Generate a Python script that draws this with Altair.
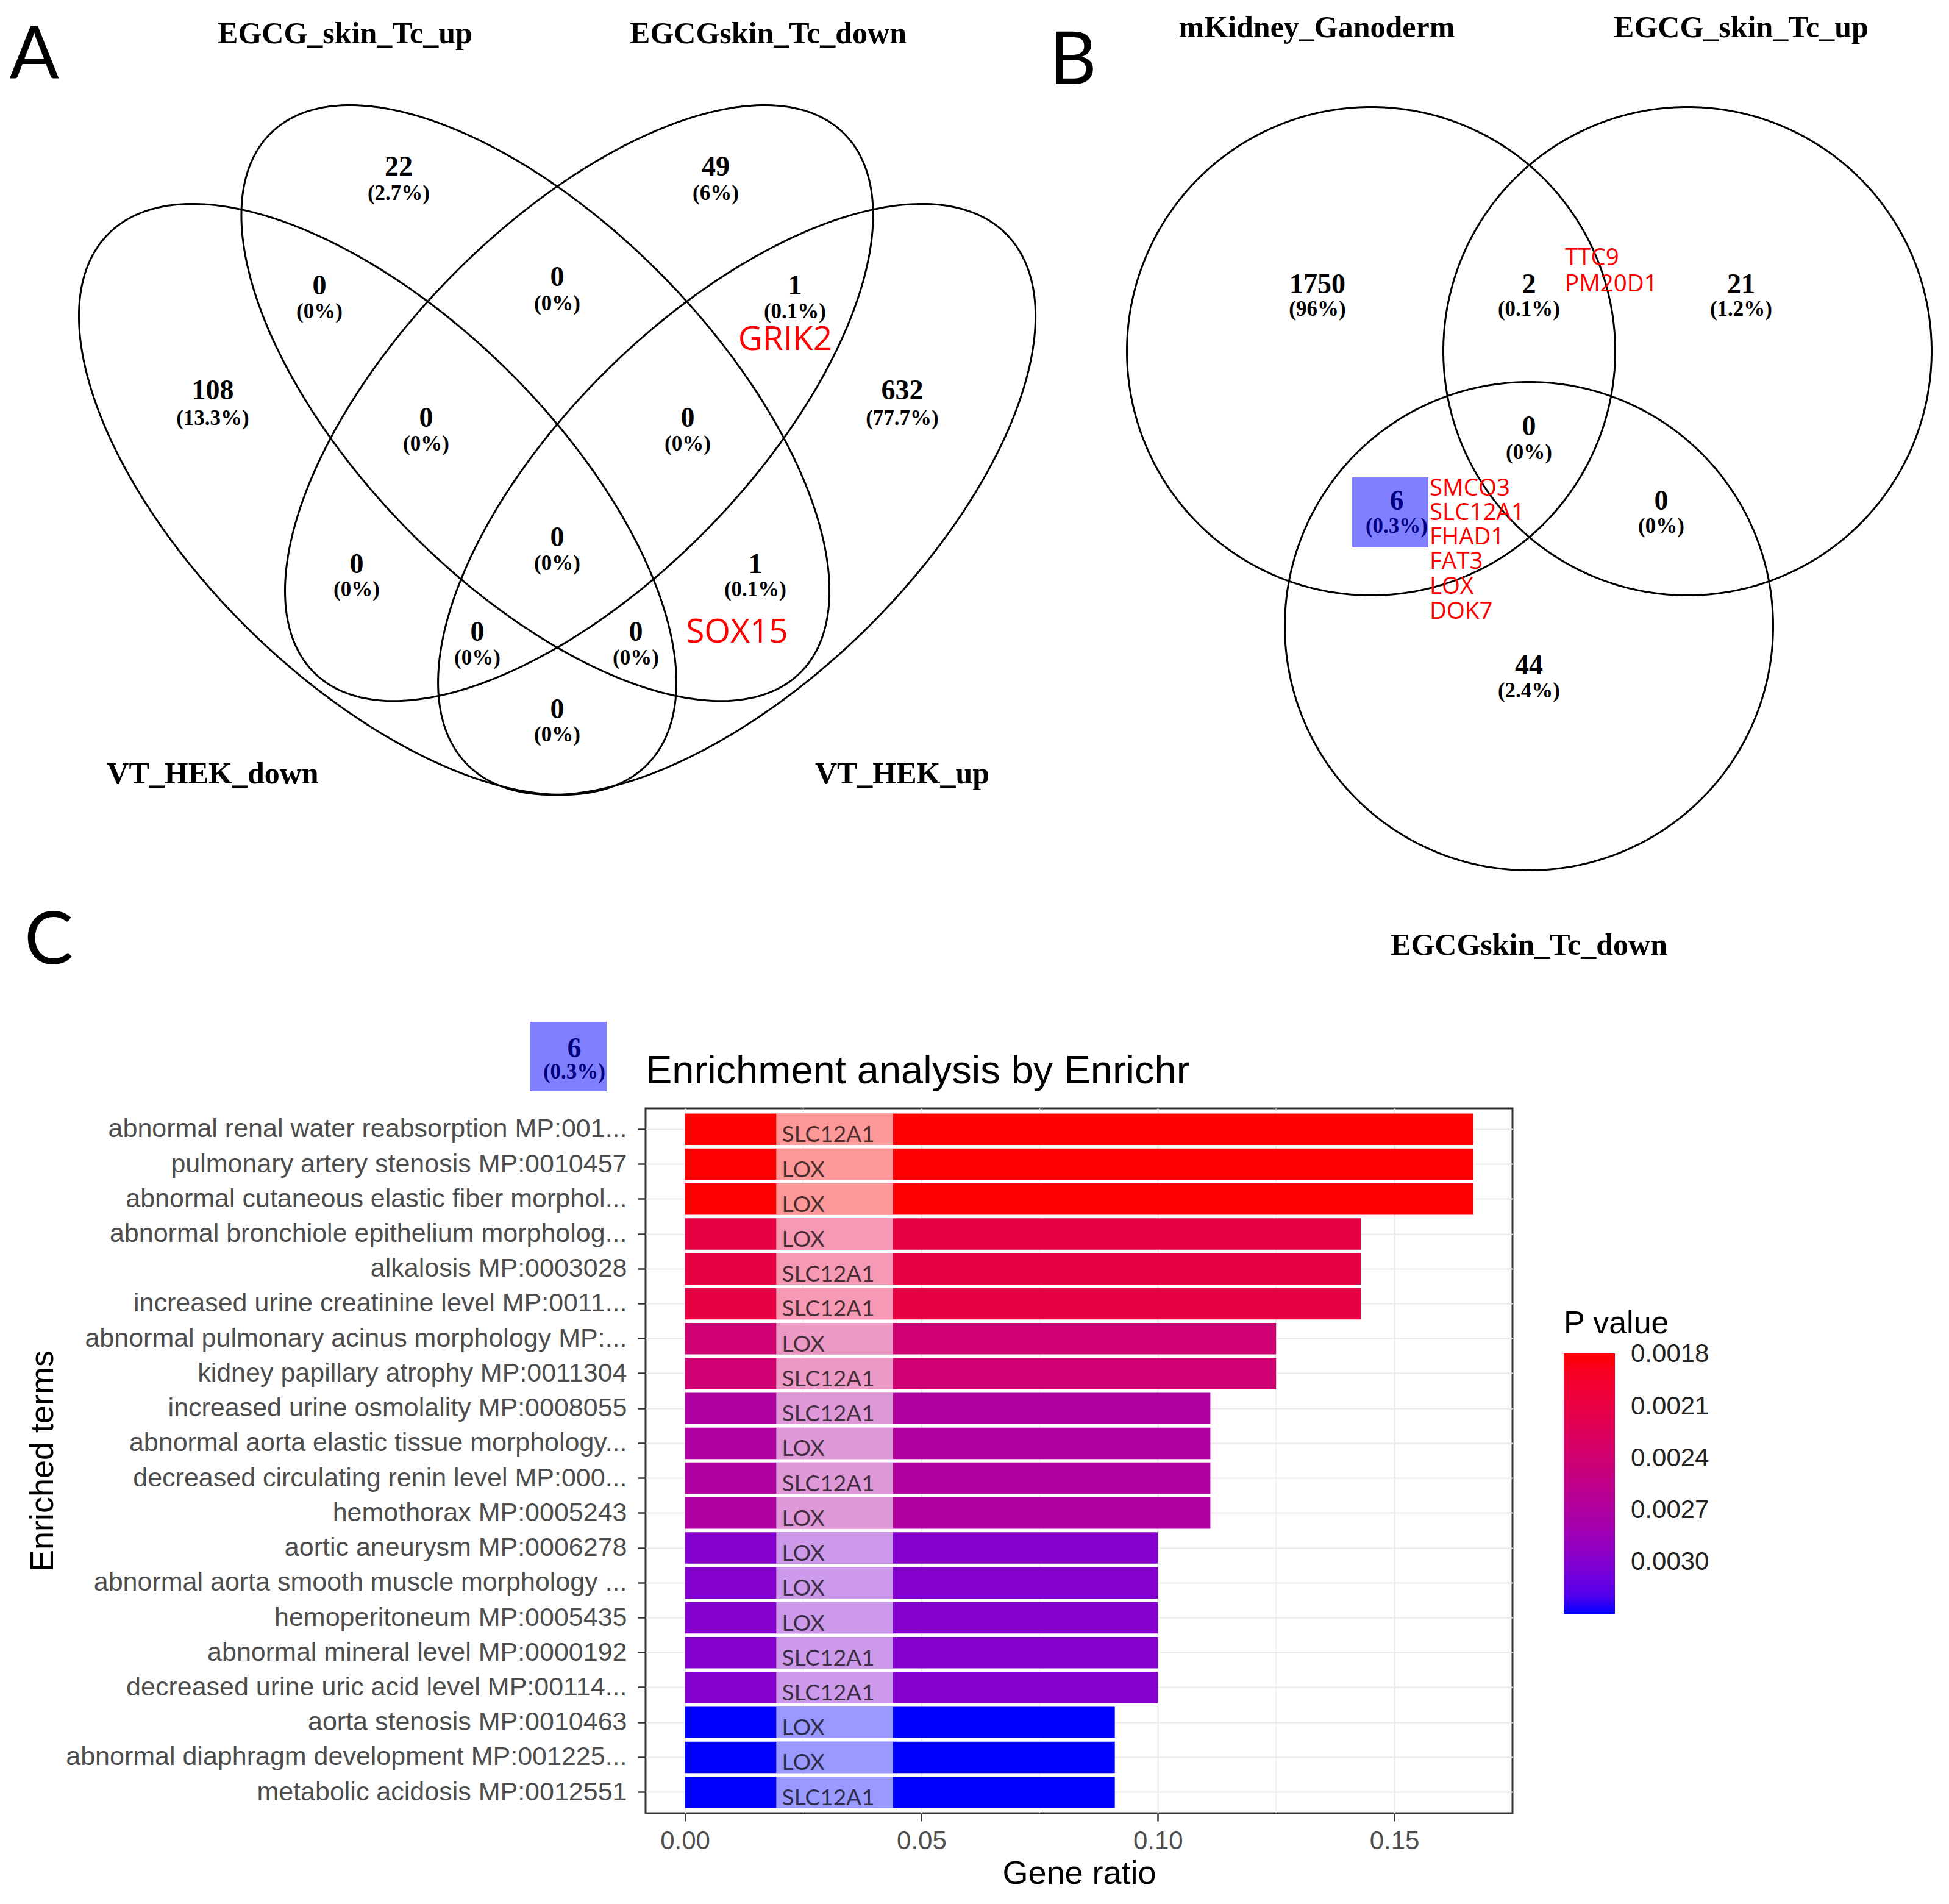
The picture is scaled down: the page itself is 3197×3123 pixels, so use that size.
import altair as alt
import numpy as np
import pandas as pd

# ------------------------------------------------------------------ data
# Panel C : Enrichr result
terms = [
    "abnormal renal water reabsorption MP:001...",
    "pulmonary artery stenosis MP:0010457",
    "abnormal cutaneous elastic fiber morphol...",
    "abnormal bronchiole epithelium morpholog...",
    "alkalosis MP:0003028",
    "increased urine creatinine level MP:0011...",
    "abnormal pulmonary acinus morphology MP:...",
    "kidney papillary atrophy MP:0011304",
    "increased urine osmolality MP:0008055",
    "abnormal aorta elastic tissue morphology...",
    "decreased circulating renin level MP:000...",
    "hemothorax MP:0005243",
    "aortic aneurysm MP:0006278",
    "abnormal aorta smooth muscle morphology ...",
    "hemoperitoneum MP:0005435",
    "abnormal mineral level MP:0000192",
    "decreased urine uric acid level MP:00114...",
    "aorta stenosis MP:0010463",
    "abnormal diaphragm development MP:001225...",
    "metabolic acidosis MP:0012551",
]
genes = ["SLC12A1", "LOX", "LOX", "LOX", "SLC12A1", "SLC12A1", "LOX", "SLC12A1",
         "SLC12A1", "LOX", "SLC12A1", "LOX", "LOX", "LOX", "LOX", "SLC12A1",
         "SLC12A1", "LOX", "LOX", "SLC12A1"]
gene_ratio = [0.1667, 0.1667, 0.1667, 0.1429, 0.1429, 0.1429, 0.125, 0.125,
              0.1111, 0.1111, 0.1111, 0.1111, 0.1, 0.1, 0.1, 0.1, 0.1,
              0.0909, 0.0909, 0.0909]
p_value = [0.0018, 0.0018, 0.0018, 0.0021, 0.0021, 0.0021, 0.0024, 0.0024,
           0.0027, 0.0027, 0.0027, 0.0027, 0.0030, 0.0030, 0.0030, 0.0030, 0.0030,
           0.0033, 0.0033, 0.0033]
p_ticks = [0.0018, 0.0021, 0.0024, 0.0027, 0.0030]
x_ticks = [0.0, 0.05, 0.10, 0.15]
x_minor = [0.025, 0.075, 0.125]

# Panel A : four-set Venn
A_sets = ["EGCG_skin_Tc_up", "EGCGskin_Tc_down", "VT_HEK_down", "VT_HEK_up"]
A_counts = ["22", "49", "0", "0", "1", "108", "0", "0", "632", "0", "0", "1", "0", "0", "0"]
A_pcts = ["(2.7%)", "(6%)", "(0%)", "(0%)", "(0.1%)", "(13.3%)", "(0%)", "(0%)", "(77.7%)",
          "(0%)", "(0%)", "(0.1%)", "(0%)", "(0%)", "(0%)"]
A_genes = ["GRIK2", "SOX15"]

# Panel B : three-set Venn
B_sets = ["mKidney_Ganoderm", "EGCG_skin_Tc_up", "EGCGskin_Tc_down"]
B_counts = ["1750", "2", "21", "0", "6", "0", "44"]
B_pcts = ["(96%)", "(0.1%)", "(1.2%)", "(0%)", "(0.3%)", "(0%)", "(2.4%)"]
B_genes_12 = ["TTC9", "PM20D1"]
B_genes_13 = ["SMCO3", "SLC12A1", "FHAD1", "FAT3", "LOX", "DOK7"]
C_box_count = ["6"]
C_box_pct = ["(0.3%)"]
panel_letters = ["A", "B", "C"]
C_title = "Enrichment analysis by Enrichr"

# ------------------------------------------------------------------ layout (page pixels)
PAGE_W, PAGE_H = 3197, 3123
PLOT_X0, PLOT_Y0 = 1059, 1818
PLOT_W, PLOT_H = 1422, 1156
REF = 3197 / 1568.0          # outline points below were read on a 1568-px-wide view

A_count_pos = [(654, 274), (1174, 274), (524, 469), (914, 455), (1304, 469), (349, 641),
               (699, 686), (1128, 686), (1480, 641), (914, 882), (585, 926), (1239, 926),
               (783, 1037), (1043, 1037), (914, 1164)]
A_pct_pos = [(654, 317), (1174, 317), (524, 511), (914, 498), (1304, 511), (349, 686),
             (699, 728), (1128, 728), (1480, 686), (914, 924), (585, 967), (1239, 967),
             (783, 1079), (1043, 1079), (914, 1205)]
A_set_pos = [(566, 56), (1260, 56), (349, 1270), (1480, 1270)]
A_gene_pos = [(1288, 557), (1209, 1037)]

# points traced on the outlines of the left outer (VT_HEK_down) and left inner
# (EGCG_skin_Tc_up) ellipses; the right ones are their mirror images
A_outer_trace = [(66.3, 267.6), (72, 223.7), (93.9, 186.2), (125.2, 167.4), (156.5, 162.7),
                 (195.6, 165.9), (344.2, 242.5), (449, 344), (524, 464), (542, 561.5),
                 (538, 597), (490, 634.5), (447, 640), (399, 633), (294, 574), (203.4, 511.6),
                 (147.1, 449), (103.3, 386.5), (75.1, 323.7)]
A_inner_trace = [(291, 87.6), (212.8, 114.2), (200.3, 142.4), (194, 176.8), (196.4, 214.3),
                 (215.8, 267.5), (264.4, 348.9), (372.3, 464.7), (449, 521), (542.5, 561.5),
                 (577.3, 565.8), (635.7, 544.5), (552.8, 243.5), (449, 151.8), (406.8, 120.5),
                 (344.2, 95.5)]
A_mirror_x = 448.3

B_set_pos = [(2160, 46), (2856, 46), (2508, 1551)]
B_count_pos = [(2161, 467), (2508, 467), (2856, 467), (2508, 700), (2291, 822), (2725, 822), (2508, 1092)]
B_pct_pos = [(2161, 507), (2508, 507), (2856, 507), (2508, 742), (2291, 863), (2725, 863), (2508, 1133)]
B_genes_12_pos = [(2567, 423), (2567, 466)]
B_genes_13_pos = [(2345, 801), (2345, 841), (2345, 881), (2345, 921), (2345, 962), (2345, 1003)]
B_circles = [(2249, 576, 400.5), (2768, 576, 400.5), (2508, 1027, 400.5)]
B_highlight = [(2218, 783, 2343, 898)]
C_highlight = [(869, 1676, 995, 1790)]
C_box_count_pos = [(942, 1720)]
C_box_pct_pos = [(942, 1758)]
letter_pos = [(56, 93), (1760, 102), (80, 1545)]
C_title_pos = (1059, 1777)
LABEL_BOX = (0.0193, 0.0440)
LABEL_X = 0.0205

XS = alt.Scale(domain=[0, PAGE_W], range=[-PLOT_X0, PAGE_W - PLOT_X0], nice=False, zero=False)
YS = alt.Scale(domain=[0, PAGE_H], range=[-PLOT_Y0, PAGE_H - PLOT_Y0], nice=False, zero=False)


def pos_df(labels, pos):
    return pd.DataFrame({"label": labels, "x": [p[0] for p in pos], "y": [p[1] for p in pos]})


def text_layer(df, font, size, color="black", weight="normal", align="center", baseline="middle"):
    return alt.Chart(df).mark_text(font=font, fontSize=size, color=color, fontWeight=weight,
                                   align=align, baseline=baseline).encode(
        x=alt.X("x:Q", scale=XS, axis=None),
        y=alt.Y("y:Q", scale=YS, axis=None),
        text="label:N",
    )


def ellipse_outline(trace, n=361):
    """Least-squares ellipse through traced outline points, returned as a closed polyline."""
    P = np.array(trace, float)
    m = P.mean(axis=0)
    s = P.std()
    X = (P - m) / s
    x, y = X[:, 0], X[:, 1]
    D = np.column_stack([x * x, x * y, y * y, x, y])
    A, B, C, Dd, E = np.linalg.lstsq(D, np.ones(len(x)), rcond=None)[0]
    M = np.array([[A, B / 2], [B / 2, C]])
    g = np.array([Dd, E])
    c0 = np.linalg.solve(2 * M, -g)
    F = 1 - (c0 @ M @ c0 + g @ c0)
    lam, V = np.linalg.eigh(M)
    ax = np.sqrt(F / lam)
    t = np.linspace(0, 2 * np.pi, n)
    Q = V @ np.vstack([ax[0] * np.cos(t), ax[1] * np.sin(t)])
    return (c0[:, None] + Q).T * s + m


# outlines of the Venn sets
rows = []
outer = ellipse_outline(A_outer_trace)
inner = ellipse_outline(A_inner_trace)
shapes = {
    "A0": outer,
    "A1": inner,
    "A2": np.column_stack([2 * A_mirror_x - inner[:, 0], inner[:, 1]]),
    "A3": np.column_stack([2 * A_mirror_x - outer[:, 0], outer[:, 1]]),
}
for key, pts in shapes.items():
    for k, (xx, yy) in enumerate(pts * REF):
        rows.append({"id": key, "k": k, "x": xx, "y": yy})
t = np.linspace(0, 2 * np.pi, 361)
for i, (cx, cy, r) in enumerate(B_circles):
    for k, (xx, yy) in enumerate(zip(cx + r * np.cos(t), cy + r * np.sin(t))):
        rows.append({"id": f"B{i}", "k": k, "x": xx, "y": yy})
outline_df = pd.DataFrame(rows)

outlines = alt.Chart(outline_df).mark_line(color="black", strokeWidth=3).encode(
    x=alt.X("x:Q", scale=XS, axis=None),
    y=alt.Y("y:Q", scale=YS, axis=None),
    detail="id:N",
    order="k:Q",
)

hl = B_highlight + C_highlight
box_df = pd.DataFrame({"x": [b[0] for b in hl], "y": [b[1] for b in hl],
                       "x2": [b[2] for b in hl], "y2": [b[3] for b in hl]})
boxes = alt.Chart(box_df).mark_rect(color="#8080FF").encode(
    x=alt.X("x:Q", scale=XS, axis=None), x2="x2:Q",
    y=alt.Y("y:Q", scale=YS, axis=None), y2="y2:Q",
)

SERIF = "Liberation Serif"
SANS = "Liberation Sans"
LABEL_SANS = "Open Sans"

black_counts = [c for i, c in enumerate(B_counts) if i != 4]
black_count_pos = [p for i, p in enumerate(B_count_pos) if i != 4]
black_pcts = [c for i, c in enumerate(B_pcts) if i != 4]
black_pct_pos = [p for i, p in enumerate(B_pct_pos) if i != 4]

venn_layers = [
    outlines,
    boxes,
    text_layer(pos_df(A_counts + black_counts, A_count_pos + black_count_pos), SERIF, 46, weight="bold"),
    text_layer(pos_df(A_pcts + black_pcts, A_pct_pos + black_pct_pos), SERIF, 35, weight="bold"),
    text_layer(pos_df([B_counts[4]] + C_box_count, [B_count_pos[4]] + C_box_count_pos), SERIF, 46,
               color="#000080", weight="bold"),
    text_layer(pos_df([B_pcts[4]] + C_box_pct, [B_pct_pos[4]] + C_box_pct_pos), SERIF, 35,
               color="#000080", weight="bold"),
    text_layer(pos_df(A_sets + B_sets, A_set_pos + B_set_pos), SERIF, 50, weight="bold"),
    text_layer(pos_df(A_genes, A_gene_pos), LABEL_SANS, 55, color="#FF0000"),
    text_layer(pos_df(B_genes_12 + B_genes_13, B_genes_12_pos + B_genes_13_pos), LABEL_SANS, 38.5,
               color="#FF0000", align="left"),
    text_layer(pos_df(panel_letters, letter_pos), "Lato", 120),
    text_layer(pos_df([C_title], [C_title_pos]), SANS, 65, align="left", baseline="alphabetic"),
]
venn = alt.layer(*venn_layers)

# ------------------------------------------------------------------ bar chart (panel C)
bar_df = pd.DataFrame({"term": terms, "gene": genes, "ratio": gene_ratio, "p": p_value})
xscale = alt.Scale(domain=[-0.00833, 0.175], nice=False, zero=False)
yscale = alt.Scale(paddingInner=0.1, paddingOuter=0.15)

x_axis = alt.Axis(orient="bottom", values=x_ticks, format=".2f", labelFontSize=42, labelFont=SANS,
                  labelColor="#4D4D4D", labelPadding=12, labelFlush=False, tickSize=13,
                  tickColor="#333333", tickWidth=2.5, domain=False, grid=True, gridColor="#EBEBEB",
                  gridWidth=2.2, titleFontSize=54, titleFont=SANS, titleFontWeight="normal",
                  titleColor="black", titleX=PLOT_W / 2, titleY=115, titleBaseline="alphabetic")
y_axis = alt.Axis(orient="left", labelFontSize=43, labelFont=SANS, labelColor="#4D4D4D",
                  labelLimit=3000, labelPadding=18, tickSize=13, tickColor="#333333", tickWidth=2.5,
                  domain=False, grid=True, gridColor="#EBEBEB", gridWidth=2.2, bandPosition=0.5,
                  titleFontSize=54, titleFont=SANS, titleFontWeight="normal", titleColor="black",
                  titleX=-973, titleY=PLOT_H / 2, titleAngle=270, titleBaseline="alphabetic",
                  titleAlign="center")

base = alt.Chart(bar_df).transform_calculate(negp="-datum.p")
yenc = alt.Y("term:N", sort=terms, scale=yscale, axis=y_axis, title="Enriched terms")

minor = alt.Chart(pd.DataFrame({"ratio": x_minor})).mark_rule(color="#EBEBEB", strokeWidth=1.2).encode(
    x=alt.X("ratio:Q", scale=xscale, title="Gene ratio"))

# colour runs red (small P) -> blue (large P); negated so that the legend shows small P on top
bars = base.mark_bar().encode(
    x=alt.X("ratio:Q", scale=xscale, axis=x_axis, title="Gene ratio"),
    y=yenc,
    color=alt.Color(
        "negp:Q",
        title="P value",
        scale=alt.Scale(domain=[-0.0033, -0.001795], range=["#0000FF", "#FF0000"], interpolate="lab"),
        legend=alt.Legend(orient="none", legendX=1506, legendY=328, direction="vertical",
                          gradientLength=427, gradientThickness=84,
                          values=[-v for v in p_ticks],
                          labelExpr="format(-datum.value, '.4f')",
                          titleFontSize=52, titleFont=SANS, titleFontWeight="normal",
                          titleColor="black", titlePadding=22, labelFontSize=42, labelFont=SANS,
                          labelColor="#222222", labelOffset=26, labelOverlap=False, padding=0,
                          gradientStrokeWidth=0),
    ),
)

label_box = base.mark_bar(color="white", opacity=0.6).encode(
    x=alt.X(datum=LABEL_BOX[0], scale=xscale, title="Gene ratio"),
    x2=alt.X2(datum=LABEL_BOX[1]),
    y=alt.Y("term:N", sort=terms),
)
label_text = base.mark_text(align="left", baseline="alphabetic", dy=21, font="Lato", fontSize=37,
                            color="black", opacity=0.7).encode(
    x=alt.X(datum=LABEL_X, scale=xscale, title="Gene ratio"),
    y=alt.Y("term:N", sort=terms),
    text="gene:N",
)

bar_layer = alt.layer(minor, bars, label_box, label_text)

chart = alt.layer(bar_layer, venn).resolve_scale(x="independent", y="independent").properties(
    width=PLOT_W,
    height=PLOT_H,
    autosize=alt.AutoSizeParams(type="none"),
    padding={"left": PLOT_X0 - 8, "top": PLOT_Y0 - 8, "right": 3189 - PLOT_X0 - PLOT_W,
             "bottom": 3112 - PLOT_Y0 - PLOT_H},
).configure_view(stroke="#333333", strokeWidth=3)

chart.save("out.html", embed_options={"renderer": "svg", "actions": False})
